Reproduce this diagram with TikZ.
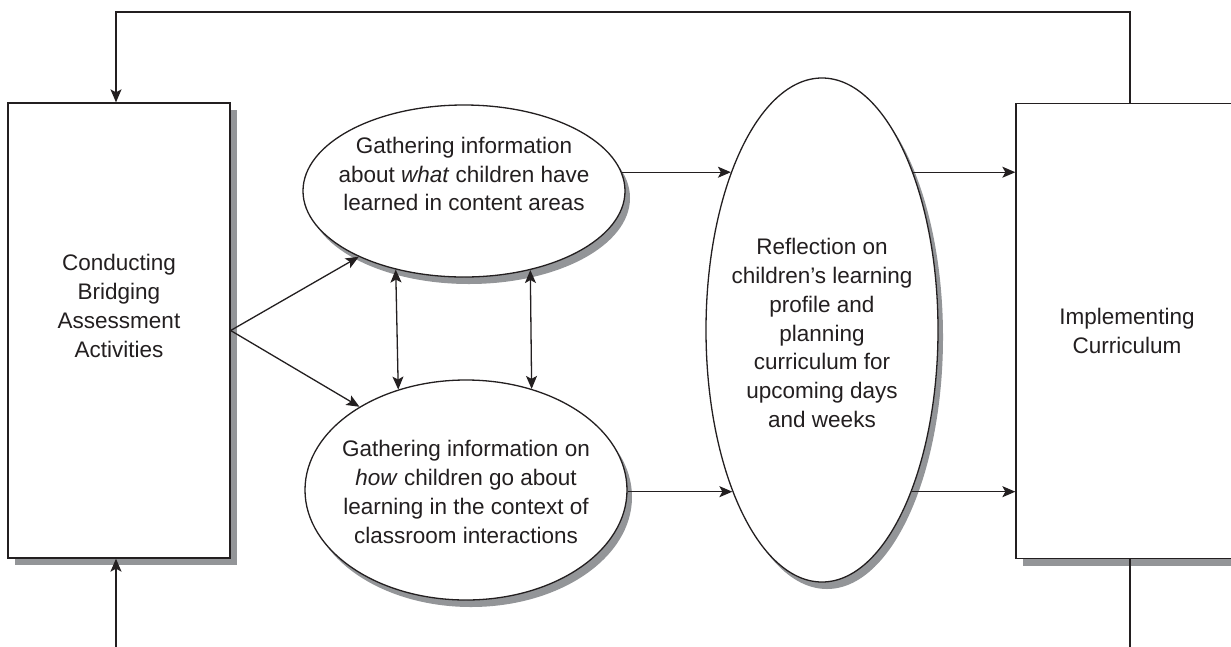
\documentclass[tikz,border=0pt]{standalone}
\usepackage{fontspec}
\setmainfont{Liberation Sans}
\usetikzlibrary{shapes.geometric,arrows.meta,shadows}
\definecolor{ink}{HTML}{231F20}
\definecolor{shade}{HTML}{939598}
\begin{document}
\begin{tikzpicture}[x=1pt,y=-1pt,color=ink,line width=1.3pt,
  box/.style={rectangle, draw=ink, fill=white, minimum width=222pt, minimum height=455pt, inner sep=0pt,
    drop shadow={shadow xshift=7pt, shadow yshift=-7pt, fill=shade, opacity=1}},
  oval/.style={ellipse, draw=ink, fill=white, inner sep=0pt,
    drop shadow={shadow xshift=5pt, shadow yshift=-7pt, fill=shade, opacity=1}},
  txt/.style={align=center, font=\fontsize{22.5}{28.8}\selectfont, inner sep=0pt, text=ink},
  arr/.style={-{Stealth[length=13pt,width=11pt,inset=3pt]}},
  dbl/.style={{Stealth[length=13pt,width=11pt,inset=3pt]}-{Stealth[length=13pt,width=11pt,inset=3pt]}}]
\clip (0,0) rectangle (1231,646);
\fill[white] (0,0) rectangle (1231,646);

% boxes
\node[box] (lbox) at (119,330.5) {};
\node[box] (rbox) at (1127,331) {};
\node[txt] (ltext) at (119,306) {Conducting\\Bridging\\Assessment\\Activities};
\node[txt] (rtext) at (1127,331) {Implementing\\Curriculum};

% ellipses
\node[oval, minimum width=322pt, minimum height=172pt] (te) at (464,191) {};
\node[oval, minimum width=322pt, minimum height=220pt] (be) at (466,490) {};
\node[oval, minimum width=232pt, minimum height=504pt] (me) at (822,330) {};
\node[txt] (tetext) at (464,174) {Gathering information\\about \textit{what} children have\\learned in content areas};
\node[txt] (betext) at (466,492) {Gathering information on\\\textit{how} children go about\\learning in the context of\\classroom interactions};
\node[txt] (metext) at (822,333) {Reflection on\\children’s learning\\profile and\\planning\\curriculum for\\upcoming days\\and weeks};

% feedback loop
\coordinate (tr) at (1130,12);
\coordinate (tl) at (116,12);
\coordinate (bl) at (116,660);
\coordinate (br) at (1130,660);
\draw[arr] (tr |- rbox.north) -- (tr) -- (tl) -- (tl |- lbox.north);
\draw[arr] (bl) -- (bl |- lbox.south);
\draw (br |- rbox.south) -- (br);

% left box to ellipses
\draw[arr] (lbox.east) -- (te.212);
\draw[arr] (lbox.east) -- (be.142);

% between the two ellipses
\draw[dbl] (te.229.4) -- (be.124.8);
\draw[dbl] (te.310.1) -- (be.57.6);

% to reflection
\draw[arr] (me.120 -| te.7) -- (me.120);
\draw[arr] (me.241 -| be.east) -- (me.241);

% to implementing
\draw[arr] (me.60) -- (me.60 -| rbox.west);
\draw[arr] (me.299) -- (me.299 -| rbox.west);
\end{tikzpicture}
\end{document}
